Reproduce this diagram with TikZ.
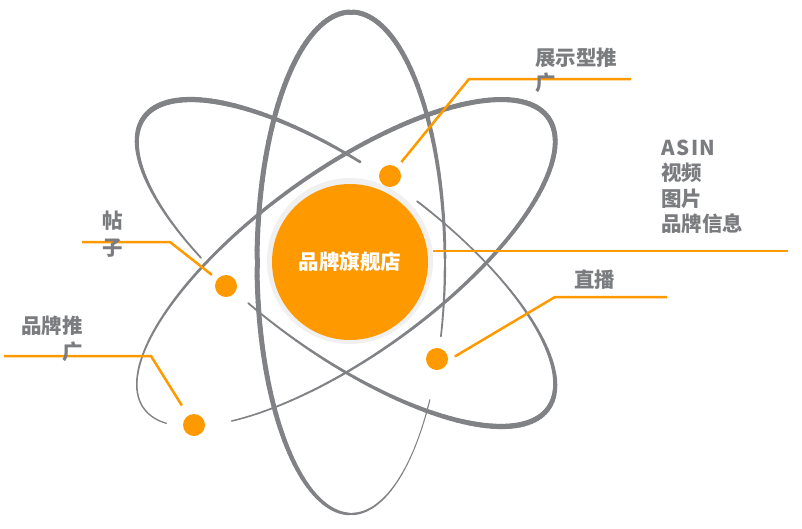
\documentclass[tikz,border=0pt]{standalone}
\usepackage{fontspec}
\newfontfamily\cjk{Noto Sans CJK SC}
\definecolor{org}{RGB}{255,153,0}
\definecolor{elg}{RGB}{128,130,133}
\definecolor{txg}{RGB}{122,124,127}
\definecolor{ringc}{RGB}{240,240,240}
\begin{document}
\begin{tikzpicture}[x=1pt,y=-1pt,
  declare function={
    Ax(\t)=346+202.2*cos(\t)-53.7*sin(\t);
    Ay(\t)=263+145.4*cos(\t)+74.7*sin(\t);
    Bx(\t)=346+202.2*cos(\t)+53.7*sin(\t);
    By(\t)=263-145.4*cos(\t)+74.7*sin(\t);
    Vx(\t)=351+94*cos(\t);
    Vy(\t)=263+251*sin(\t);
    wA(\t)=3.5+1.8*cos(2*(\t-20));
    wB(\t)=3.2+1.9*cos(\t+15);
    wV(\t)=5-4*((1+cos(\t-45))/2)^3;
  },
  lbl/.style={font=\cjk\bfseries\fontsize{20.5}{25}\selectfont, text=txg, inner sep=0pt},
  dot/.style={circle, fill=org, minimum size=22pt, inner sep=0pt, outer sep=7pt},
  lead/.style={draw=org, line width=2.5pt},
  orb/.style={draw=elg, line cap=round}
]
\useasboundingbox (0,0) rectangle (802,528);
% orbits
\foreach \s in {119,121,...,257} {
  \pgfmathsetmacro\ww{wA(\s+1)}
  \draw[orb, line width=\ww pt] ({Ax(\s)},{Ay(\s)}) -- ({Ax(\s+2)},{Ay(\s+2)});
}
\foreach \s in {275,277,...,461} {
  \pgfmathsetmacro\ww{wA(\s+1)}
  \draw[orb, line width=\ww pt] ({Ax(\s)},{Ay(\s)}) -- ({Ax(\s+2)},{Ay(\s+2)});
}
\foreach \s in {164,166,...,496} {
  \pgfmathsetmacro\ww{wB(\s+1)}
  \draw[orb, line width=\ww pt] ({Bx(\s)},{By(\s)}) -- ({Bx(\s+2)},{By(\s+2)});
}
\foreach \s in {33,35,...,375} {
  \pgfmathsetmacro\ww{wV(\s+1)}
  \draw[orb, line width=\ww pt] ({Vx(\s)},{Vy(\s)}) -- ({Vx(\s+2)},{Vy(\s+2)});
}
% nucleus
\node[circle, fill=ringc, minimum size=166pt, inner sep=0pt] (ring) at (350,261) {};
\node[circle, fill=org, minimum size=156pt, inner sep=0pt,
      font=\cjk\bfseries\fontsize{20.5}{25}\selectfont, text=white] (core) at (350,262) {品牌旗舰店};
% electrons
\node[dot] (d1) at (390,176) {};
\node[dot] (d2) at (226,286) {};
\node[dot] (d3) at (194,425) {};
\node[dot] (d4) at (437,359) {};
% leader lines
\coordinate (b1) at (469,79);  \coordinate (e1) at (631,79);
\coordinate (b2) at (170,242); \coordinate (e2) at (82,242);
\coordinate (b3) at (151,356); \coordinate (e3) at (4,356);
\coordinate (b4) at (555,297); \coordinate (e4) at (667,297);
\coordinate (a1) at (788,251);
\draw[lead] (d1) -- (b1) -- (e1);
\draw[lead] (e2) -- (b2) -- (d2);
\draw[lead, shorten >=5pt] (e3) -- (b3) -- (d3);
\draw[lead] (d4.8) -- (b4) -- (e4);
\draw[draw=org, line width=1.3pt] (ring.east |- a1) -- (a1);
% labels
\node[lbl, anchor=base west] (t1a) at (535,65) {展示型推};
\node[lbl, anchor=base west] (t1b) at (535,90) {广};
\node[lbl, anchor=base west] (t2a) at (661,155) {\addfontfeatures{LetterSpace=8}ASIN};
\node[lbl, anchor=base west] (t2b) at (661,180.5) {视频};
\node[lbl, anchor=base west] (t2c) at (661,206) {图片};
\node[lbl, anchor=base west] (t2d) at (661,231.5) {品牌信息};
\node[lbl, anchor=base west] (t3a) at (102,228) {帖};
\node[lbl, anchor=base west] (t3b) at (102,255) {子};
\node[lbl, anchor=base west] (t4a) at (21,333) {品牌推};
\node[lbl, anchor=base east] (t4b) at (83,359) {广};
\node[lbl, anchor=base west] (t5) at (574,287) {直播};
\end{tikzpicture}
\end{document}
